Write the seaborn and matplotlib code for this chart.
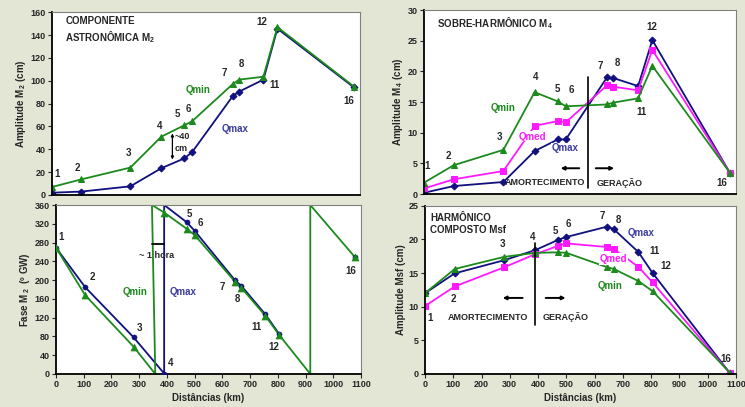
import matplotlib
matplotlib.use("Agg")
import matplotlib.pyplot as plt
import seaborn as sns

# distancias das estacoes (km) e nomes
dist = [0, 105, 280, 390, 472, 500, 645, 668, 755, 805, 1078]
estacoes = ['1', '2', '3', '4', '5', '6', '7', '8', '11', '12', '16']

# amplitude M2 (cm)
m2_qmin = [7, 13.7, 24, 51, 61, 64.5, 97, 101, 103.6, 147, 95]
m2_qmax = [2, 3, 7.6, 23.4, 32, 37.4, 86.4, 90.5, 101, 145.7, 94.3]

# amplitude M4 (cm)
m4_qmin = [1.85, 4.7, 7.2, 16.6, 15.1, 14.3, 14.6, 14.9, 15.6, 20.9, 3.5]
m4_qmed = [0.9, 2.4, 3.75, 11.1, 11.9, 11.7, 17.7, 17.5, 16.9, 23.5, 3.5]
m4_qmax = [0.2, 1.3, 1.96, 7.0, 8.9, 8.9, 19.0, 18.9, 17.6, 25.1, 3.5]

# fase M2 (graus GW) nas estacoes
fase_qmin = [269, 168, 58, 344, 309, 296, 197, 184, 124, 83, 249]
fase_qmax = [269, 185, 78, 1, 323, 305, 200, 188, 127, 85, 249]
# vertices das linhas de fase (com as passagens 0/360)
fase_qmin_lx = [0, 105, 280, 358, 346, 390, 472, 500, 645, 668, 755, 805, 917, 917, 1078]
fase_qmin_ly = [269, 168, 58, 0, 360, 344, 309, 296, 197, 184, 124, 83, 0, 360, 249]
fase_qmax_lx = [0, 105, 280, 390, 390, 472, 500, 645, 668, 755, 805]
fase_qmax_ly = [269, 185, 78, 1, 360, 323, 305, 200, 188, 127, 85]

# amplitude Msf (cm)
msf_qmin = [12.0, 15.6, 17.4, 18.0, 18.07, 18.0, 15.85, 15.6, 13.8, 12.3, 0.2]
msf_qmed = [10.1, 13.0, 15.85, 17.8, 19.05, 19.4, 18.86, 18.56, 15.9, 13.6, 0.15]
msf_qmax = [12.0, 14.95, 16.9, 18.4, 19.95, 20.35, 21.9, 21.5, 18.1, 15.0, 0.15]

# posicoes dos rotulos das estacoes em cada painel
pos_m2 = [(18, 18.4), (92, 23.4), (272, 37), (385, 60.4), (449, 71), (486, 75),
          (615, 106.6), (675, 114.5), (794, 96.4), (749, 151.8), (1059, 82.6)]
pos_m4 = [(12, 4.6), (86, 6.25), (265, 9.35), (393, 19.1), (469, 17.2), (518, 17.0),
          (622, 20.8), (681, 21.3), (766, 13.4), (804, 27.3), (1050, 1.85)]
pos_fase = [(19, 292), (132, 207), (301, 99), (415, 24), (480, 341), (520, 322),
            (601, 185), (654, 159), (724, 99.5), (784, 58), (1064, 220)]
pos_msf = [(19, 8.27), (101, 11.1), (273, 19.3), (379, 20.3), (461, 21.2), (507, 22.3),
           (628, 23.5), (684, 22.9), (810, 18.3), (851, 16.0), (1064, 2.2)]

verde = '#1c8a1c'
azul = '#10107e'
azul_txt = '#3c3ca0'
rosa = '#ff19ff'
fundo = '#e4e6d5'

sns.set_style("white")
plt.rcParams['font.family'] = ['Liberation Sans', 'DejaVu Sans']
plt.rcParams['font.weight'] = 'bold'
plt.rcParams['axes.labelweight'] = 'bold'
plt.rcParams['mathtext.fontset'] = 'custom'
plt.rcParams['mathtext.rm'] = 'Liberation Sans:bold'
plt.rcParams['mathtext.it'] = 'Liberation Sans:bold'
plt.rcParams['mathtext.bf'] = 'Liberation Sans:bold'

fig = plt.figure(figsize=(7.45, 4.07), dpi=100)
fig.patch.set_facecolor(fundo)

ax1 = fig.add_axes([0.0698, 0.5209, 0.4134, 0.4489])
ax2 = fig.add_axes([0.5691, 0.5233, 0.4188, 0.4521])
ax3 = fig.add_axes([0.0752, 0.0811, 0.4094, 0.4152])
ax4 = fig.add_axes([0.5705, 0.0811, 0.4174, 0.4135])


def estilo(ax, ymax, ystep, mostrar_x):
    ax.set_facecolor('white')
    ax.set_xlim(0, 1100)
    ax.set_ylim(0, ymax)
    ax.set_yticks(range(0, ymax + 1, ystep))
    ax.set_xticks(range(0, 1101, 100))
    for s in ['top', 'right']:
        ax.spines[s].set_color('#808080')
        ax.spines[s].set_linewidth(0.8)
    for s in ['left', 'bottom']:
        ax.spines[s].set_color('black')
        ax.spines[s].set_linewidth(1.3)
    ax.tick_params(axis='both', labelsize=6.5, length=3, width=0.8, direction='out',
                   pad=1.5, left=True, bottom=mostrar_x, labelbottom=mostrar_x)
    if mostrar_x:
        ax.set_xlabel('Distâncias (km)', fontsize=7, labelpad=2.5)
    else:
        ax.set_xlabel('')


def serie(ax, y, cor, marcador, ms):
    sns.lineplot(x=dist, y=y, ax=ax, color=cor, marker=marcador, markersize=ms,
                 markeredgecolor=cor, linewidth=1.3, estimator=None)


def rotulos(ax, pos):
    for nome, (x, y) in zip(estacoes, pos):
        ax.text(x, y, nome, fontsize=7, ha='center', va='center')


# painel 1 - M2
serie(ax1, m2_qmax, azul, 'D', 3.5)
serie(ax1, m2_qmin, verde, '^', 5)
estilo(ax1, 160, 20, False)
rotulos(ax1, pos_m2)
ax1.set_ylabel('Amplitude M$_{\\,2}$ (cm)', fontsize=7, labelpad=2)
ax1.text(48, 157, 'COMPONENTE\nASTRONÔMICA M$_2$', fontsize=7, ha='left', va='top',
         linespacing=1.25)
ax1.text(522, 92, 'Qmin', color=verde, fontsize=7, ha='center', va='center')
ax1.text(653, 57.5, 'Qmax', color=azul_txt, fontsize=7, ha='center', va='center')
ax1.annotate('', xy=(430, 56.4), xytext=(430, 28.6),
             arrowprops=dict(arrowstyle='<|-|>', color='black', lw=0.9, mutation_scale=4))
ax1.text(438, 46, '~40\ncm', fontsize=6.5, ha='left', va='center', linespacing=1.4)

# painel 2 - M4
serie(ax2, m4_qmax, azul, 'D', 3.5)
serie(ax2, m4_qmed, rosa, 's', 4.5)
serie(ax2, m4_qmin, verde, '^', 5)
estilo(ax2, 30, 5, False)
rotulos(ax2, pos_m4)
ax2.set_ylabel('Amplitude M$_{\\,4}$ (cm)', fontsize=7, labelpad=2)
ax2.text(45, 27.8, 'SOBRE-HARMÔNICO M$_4$', fontsize=7, ha='left', va='center')
ax2.text(279, 14.0, 'Qmin', color=verde, fontsize=7, ha='center', va='center')
ax2.text(381, 9.35, 'Qmed', color=rosa, fontsize=7, ha='center', va='center',
         bbox=dict(facecolor='white', edgecolor='none', pad=0.5))
ax2.text(499, 7.45, 'Qmax', color=azul_txt, fontsize=7, ha='center', va='center',
         bbox=dict(facecolor='white', edgecolor='none', pad=0.5))
ax2.plot([578, 578], [0.9, 19.1], color='black', lw=1.2)
ax2.annotate('', xy=(472, 4.2), xytext=(557, 4.2),
             arrowprops=dict(arrowstyle='-|>', color='black', lw=1.4, mutation_scale=5))
ax2.annotate('', xy=(680, 4.2), xytext=(596, 4.2),
             arrowprops=dict(arrowstyle='-|>', color='black', lw=1.4, mutation_scale=5))
ax2.text(428, 1.85, 'AMORTECIMENTO', fontsize=6.5, ha='center', va='center')
ax2.text(689, 1.85, 'GERAÇÃO', fontsize=6.5, ha='center', va='center')

# painel 3 - fase M2
sns.lineplot(x=fase_qmax_lx, y=fase_qmax_ly, ax=ax3, color=azul, linewidth=1.3,
             sort=False, estimator=None)
sns.scatterplot(x=dist, y=fase_qmax, ax=ax3, color=azul, marker='o', s=14,
                edgecolor=azul, zorder=3)
sns.lineplot(x=fase_qmin_lx, y=fase_qmin_ly, ax=ax3, color=verde, linewidth=1.3,
             sort=False, estimator=None)
sns.scatterplot(x=dist, y=fase_qmin, ax=ax3, color=verde, marker='^', s=26,
                edgecolor=verde, zorder=4)
estilo(ax3, 360, 40, True)
rotulos(ax3, pos_fase)
ax3.set_ylabel('Fase M$_{\\,2}$  (º GW)', fontsize=7, labelpad=2)
ax3.text(286, 175, 'Qmin', color=verde, fontsize=7, ha='center', va='center')
ax3.text(457, 175, 'Qmax', color=azul_txt, fontsize=7, ha='center', va='center')
ax3.plot([346, 388], [276, 276], color='black', lw=1.3)
ax3.text(301, 253, '~ 1 hora', fontsize=6.5, ha='left', va='center')

# painel 4 - Msf
serie(ax4, msf_qmax, azul, 'D', 3.5)
serie(ax4, msf_qmed, rosa, 's', 4.5)
serie(ax4, msf_qmin, verde, '^', 5)
estilo(ax4, 25, 5, True)
rotulos(ax4, pos_msf)
ax4.set_ylabel('Amplitude Msf (cm)', fontsize=7, labelpad=2)
ax4.text(19, 23.9, 'HARMÔNICO\nCOMPOSTO Msf', fontsize=7, ha='left', va='top',
         linespacing=1.25)
ax4.text(763, 20.9, 'Qmax', color=azul_txt, fontsize=7, ha='center', va='center')
ax4.text(667, 17.1, 'Qmed', color=rosa, fontsize=7, ha='center', va='center',
         bbox=dict(facecolor='white', edgecolor='none', pad=0.5))
ax4.text(653, 13.1, 'Qmin', color=verde, fontsize=7, ha='center', va='center')
ax4.plot([388, 388], [7.3, 19.4], color='black', lw=1.2)
ax4.annotate('', xy=(265, 11.3), xytext=(355, 11.3),
             arrowprops=dict(arrowstyle='-|>', color='black', lw=1.4, mutation_scale=5))
ax4.annotate('', xy=(507, 11.3), xytext=(417, 11.3),
             arrowprops=dict(arrowstyle='-|>', color='black', lw=1.4, mutation_scale=5))
ax4.text(224, 8.4, 'AMORTECIMENTO', fontsize=6.5, ha='center', va='center')
ax4.text(497, 8.4, 'GERAÇÃO', fontsize=6.5, ha='center', va='center')

for ax in [ax1, ax2, ax3, ax4]:
    leg = ax.get_legend()
    if leg is not None:
        leg.remove()

plt.savefig("out.png", dpi=100, facecolor=fig.get_facecolor())
